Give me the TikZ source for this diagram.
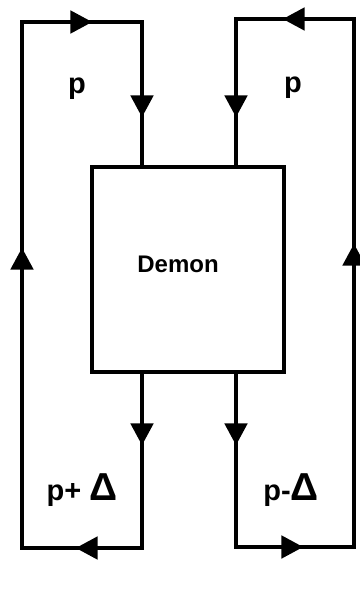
\documentclass[tikz,border=0pt]{standalone}
\usepackage{fontspec}
\setmainfont{Liberation Sans}
\usetikzlibrary{arrows.meta,decorations.markings}
\tikzset{
  wire/.style={line width=2.4pt, line join=miter, line cap=rect},
  tip/.tip={Triangle[length=11pt,width=11pt]},
  flowloop/.style={wire, postaction={decorate}, decoration={markings,
    mark=at position 35.5pt with {\arrow{tip}},
    mark=at position 120pt with {\arrow{tip}},
    mark=at position 297pt with {\arrow{tip}},
    mark=at position 445pt with {\arrow{tip}},
    mark=at position 517.5pt with {\arrow{tip}}}},
  lbl/.style={font=\bfseries\fontsize{14.5}{16}\selectfont}
}
\begin{document}
\begin{tikzpicture}[x=0.5pt,y=-0.5pt]
\useasboundingbox (0,0) rectangle (359,593);
\node [draw, line width=2.4pt, minimum width=96pt, minimum height=102.5pt] (demon) at (188,269.5) {};
\node [font=\bfseries\fontsize{12}{13}\selectfont] (demonlbl) at (178,264) {Demon};
% left loop
\coordinate (ltop) at (142,22); \coordinate (ltopout) at (22,22);
\coordinate (lbot) at (142,548); \coordinate (lbotout) at (22,548);
\draw [flowloop] (ltop |- demon.south) -- (lbot) -- (lbotout) -- (ltopout) -- (ltop) -- (ltop |- demon.north);
% right loop
\coordinate (rtop) at (236,19); \coordinate (rtopout) at (354,19);
\coordinate (rbot) at (236,547); \coordinate (rbotout) at (354,547);
\draw [flowloop] (rtop |- demon.south) -- (rbot) -- (rbotout) -- (rtopout) -- (rtop) -- (rtop |- demon.north);
\node [lbl] (pleft) at (77,89) {p};
\node [lbl] (pright) at (293,88) {p};
\node [lbl] (pplus) at (82,490) {p+\hspace{4pt}{\fontsize{19.5}{20}\selectfont Δ}};
\node [lbl] (pminus) at (291,490) {p-{\fontsize{19.5}{20}\selectfont Δ}};
\end{tikzpicture}
\end{document}
